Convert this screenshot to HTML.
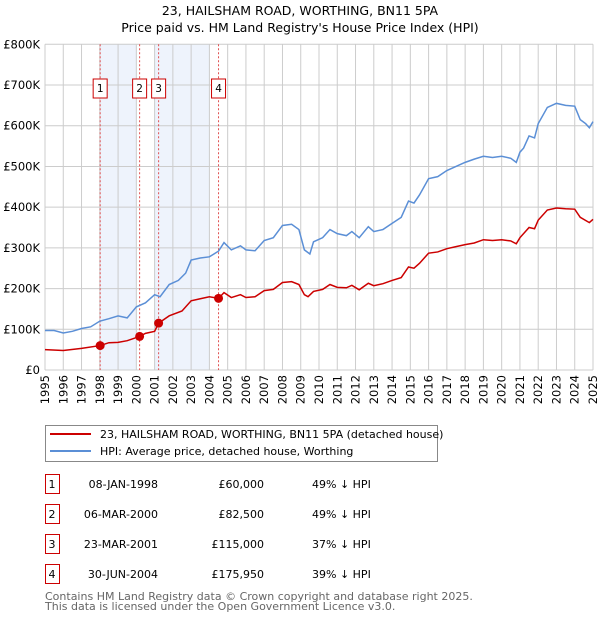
<!DOCTYPE html>
<html><head><meta charset="utf-8"><style>
body{margin:0;background:#fff;font-family:"Liberation Sans","DejaVu Sans",sans-serif;}
svg text{font-family:"DejaVu Sans","Liberation Sans",sans-serif;}
</style></head><body>
<svg width="600" height="620" xmlns="http://www.w3.org/2000/svg" id="svg">
<text x="300" y="15" font-size="12.5" text-anchor="middle">23, HAILSHAM ROAD, WORTHING, BN11 5PA</text>
<text x="300" y="32" font-size="12.5" text-anchor="middle">Price paid vs. HM Land Registry's House Price Index (HPI)</text>
<g id="plot"></g>
<g>
<rect x="45.5" y="425.5" width="392" height="36" fill="#fff" stroke="#888"/>
<line x1="50" y1="434" x2="91" y2="434" stroke="#cc0000" stroke-width="2"/>
<text x="100" y="438" font-size="11">23, HAILSHAM ROAD, WORTHING, BN11 5PA (detached house)</text>
<line x1="50" y1="451" x2="91" y2="451" stroke="#5b8fd6" stroke-width="2"/>
<text x="100" y="455" font-size="11">HPI: Average price, detached house, Worthing</text>
</g>
<g id="table"></g>
<text x="45" y="600" font-size="11" fill="#666">Contains HM Land Registry data © Crown copyright and database right 2025.</text>
<text x="45" y="610" font-size="11" fill="#666">This data is licensed under the Open Government Licence v3.0.</text>
</svg>
<script>
const hpiYears=[1995,1995.5,1996,1996.5,1997,1997.5,1998,1998.5,1999,1999.5,2000,2000.5,2001,2001.3,2001.8,2002.3,2002.7,2003,2003.5,2004,2004.5,2004.8,2005.2,2005.7,2006,2006.5,2007,2007.5,2008,2008.5,2008.9,2009.2,2009.5,2009.7,2010.2,2010.6,2011,2011.5,2011.8,2012.2,2012.7,2013,2013.5,2014,2014.5,2014.9,2015.2,2015.5,2016,2016.5,2017,2017.5,2018,2018.5,2019,2019.5,2020,2020.5,2020.8,2021,2021.2,2021.5,2021.8,2022,2022.5,2023,2023.5,2024,2024.3,2024.6,2024.8,2025];
const hpiValues=[97,97,91,95,102,106,120,126,133,128,155,165,185,180,210,220,238,270,275,278,292,313,295,305,295,293,318,325,355,358,345,295,285,315,325,345,335,330,340,325,352,340,345,360,375,415,410,430,470,475,490,500,510,518,525,522,525,520,510,535,545,575,570,605,645,655,650,648,615,605,595,610];
const propYears=[1995,1996,1997,1998.02,1998.5,1999,1999.5,2000.18,2000.5,2001,2001.22,2001.8,2002.5,2003,2003.5,2004,2004.5,2004.8,2005.2,2005.7,2006,2006.5,2007,2007.5,2008,2008.5,2008.9,2009.2,2009.4,2009.7,2010.2,2010.6,2011,2011.5,2011.8,2012.2,2012.7,2013,2013.5,2014,2014.5,2014.9,2015.2,2015.5,2016,2016.5,2017,2017.5,2018,2018.5,2019,2019.5,2020,2020.5,2020.8,2021,2021.5,2021.8,2022,2022.5,2023,2023.5,2024,2024.3,2024.8,2025];
const propValues=[50,48,53,60,67,68,72,82.5,90,95,115,133,145,170,175,180,176,190,178,185,178,180,195,198,215,217,210,185,180,193,198,210,203,202,208,197,213,207,212,220,227,253,250,262,287,290,298,303,308,312,320,318,320,317,310,325,350,347,368,393,398,396,395,375,362,370];
const saleLabels=["1","2","3","4"];
const saleYears=[1998.02,2000.18,2001.22,2004.5];
const saleValues=[60,82.5,115,175.95];
const saleDates=["08-JAN-1998","06-MAR-2000","23-MAR-2001","30-JUN-2004"];
const salePrices=["£60,000","£82,500","£115,000","£175,950"];
const saleDiffs=["49% ↓ HPI","49% ↓ HPI","37% ↓ HPI","39% ↓ HPI"];
const shadeRanges=[[1998,2000],[2001,2004]];
const yTicks=[0,100,200,300,400,500,600,700,800];
const yTickLabels=["£0","£100K","£200K","£300K","£400K","£500K","£600K","£700K","£800K"];

const X0=45,X1=593,Y0=370,Y1=44.3;
const xs=y=>X0+(y-1995)/30*(X1-X0);
const ys=v=>Y0-v/800*(Y0-Y1);
const NS="http://www.w3.org/2000/svg";
const plot=document.getElementById('plot');
function mk(tag,attrs,parent){const e=document.createElementNS(NS,tag);for(const k in attrs)e.setAttribute(k,attrs[k]);(parent||plot).appendChild(e);return e;}
shadeRanges.forEach(r=>{const e=mk('rect',{x:xs(r[0]),y:Y1,width:xs(r[1])-xs(r[0]),height:Y0-Y1,fill:'#eef3fc'});

});
for(let yr=1995;yr<=2025;yr++){const e=mk('line',{x1:xs(yr),x2:xs(yr),y1:Y1,y2:Y0,stroke:'#ccc','stroke-width':1});


const t=mk('text',{x:0,y:0,'font-size':11.5,'text-anchor':'end',transform:`translate(${xs(yr)+4},375) rotate(-90)`});
t.textContent=yr;

}
yTicks.forEach((v,i)=>{const e=mk('line',{x1:X0,x2:X1,y1:ys(v),y2:ys(v),stroke:'#ccc','stroke-width':1});


const t=mk('text',{x:40,y:ys(v)+4,'font-size':11.5,'text-anchor':'end'});
t.textContent=yTickLabels[i];

});
saleYears.forEach((y,i)=>{const e=mk('line',{x1:xs(y),x2:xs(y),y1:Y1,y2:Y0,stroke:'#e05050','stroke-width':1,'stroke-dasharray':'2,2'});


const bx=xs(y);
const r=mk('rect',{x:bx-7,y:79,width:14,height:19,fill:'#fff',stroke:'#cc0000'});


const t=mk('text',{x:bx,y:92,'font-size':10.5,'text-anchor':'middle'});
t.textContent=saleLabels[i];

});
const hp=mk('polyline',{points:hpiYears.map((y,i)=>xs(y)+','+ys(hpiValues[i])).join(' '),fill:'none',stroke:'#5b8fd6','stroke-width':1.5});


const pp=mk('polyline',{points:propYears.map((y,i)=>xs(y)+','+ys(propValues[i])).join(' '),fill:'none',stroke:'#cc0000','stroke-width':1.5});


saleYears.forEach((y,i)=>{const c=mk('circle',{cx:xs(y),cy:ys(saleValues[i]),r:4.5,fill:'#cc0000'});

});
const tbl=document.getElementById('table');
saleLabels.forEach((l,i)=>{const yy=474+i*30;
const r=mk('rect',{x:45.5,y:yy+0.5,width:14,height:19,fill:'#fff',stroke:'#cc0000'},tbl);


const cells=[[52,l,'middle'],[158,saleDates[i],'end'],[264,salePrices[i],'end'],[312,saleDiffs[i],'start']];
cells.forEach(c=>{const t=mk('text',{x:c[0],y:yy+14,'font-size':11,'text-anchor':c[2]},tbl);
t.textContent=c[1];

});});
</script>
</body></html>
